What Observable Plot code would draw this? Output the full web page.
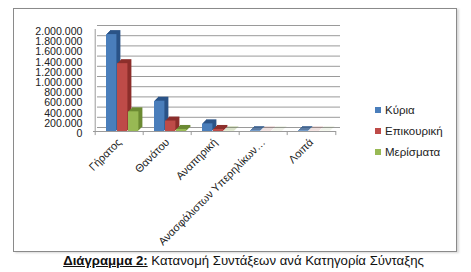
<!DOCTYPE html>
<html>
<head>
<meta charset="utf-8">
<script src="https://cdn.jsdelivr.net/npm/d3@7"></script>
<script src="https://cdn.jsdelivr.net/npm/@observablehq/plot@0.6"></script>
<style>
  html, body { margin: 0; padding: 0; background: #fff; width: 471px; height: 272px; overflow: hidden; }
  body { position: relative; font-family: "Liberation Sans", Arial, sans-serif; }
  #box { position: absolute; left: 13px; top: 8px; width: 442px; height: 242px; border: 1px solid #8a8a8a; box-shadow: 2px 1px 2px #d8d8d8; }
  #chart { position: absolute; left: 0; top: 0; }
  #legend { position: absolute; left: 375px; top: 99px; font-size: 11.5px; color: #222; }
  #legend div { height: 21px; display: flex; align-items: center; }
  #legend span.sw { display: inline-block; width: 6px; height: 6px; margin-right: 4px; }
  #caption { position: absolute; left: 8px; top: 253px; width: 471px; text-align: center; font-size: 13.2px; color: #111; }
  #caption b { text-decoration: underline; }
</style>
</head>
<body>
<div id="box"></div>
<div id="chart"></div>
<div id="legend"></div>
<div id="caption"><b>Διάγραμμα 2:</b> Κατανομή Συντάξεων ανά Κατηγορία Σύνταξης</div>
<script>
const categories = ["Γήρατος", "Θανάτου", "Αναπηρική", "Ανασφάλιστων Υπερηλίκων", "Λοιπά"];
const tickLabels = ["Γήρατος", "Θανάτου", "Αναπηρική", "Ανασφάλιστων Υπερηλίκων…", "Λοιπά"];
const seriesNames = ["Κύρια", "Επικουρική", "Μερίσματα"];
const kyria      = [1900000, 594000, 150000, 15000, 15000];
const epikouriki = [1330000, 205000, 40000, 3000, 3000];
const merismata  = [386000, 40000, 5000, 2000, 2000];
const yTicks = [0, 200000, 400000, 600000, 800000, 1000000, 1200000, 1400000, 1600000, 1800000, 2000000];
const frontColors = ["#4a7ebb", "#be4b48", "#98b954"];
const sideColors  = ["#2b5488", "#8c2f2c", "#6c8a33"];

const W = 471, H = 250;
const mL = 93, mR = 135, mT = 29, mB = 119;
const step = (W - mL - mR) / categories.length;
const barW = 11, leftPad = 11, depth = 4;

const seriesValues = [kyria, epikouriki, merismata];
const fmt = d => d3.format(",")(d).replace(/,/g, ".");

const marks = [
  Plot.gridY(yTicks, {stroke: "#9a9a9a", strokeOpacity: 1, dx: depth, dy: -depth}),
  Plot.ruleY([0], {stroke: "#9a9a9a"}),
  Plot.ruleX([categories[0]], {y1: 0, y2: 2000000, stroke: "#9a9a9a", dx: -step / 2}),
  Plot.ruleX(categories, {y1: 0, y2: -80000, stroke: "#9a9a9a", dx: -step / 2}),
  Plot.ruleX([categories[categories.length - 1]], {y1: 0, y2: -80000, stroke: "#9a9a9a", dx: step / 2}),
];
seriesValues.forEach((vals, i) => {
  const data = categories.map((c, j) => ({cat: c, v: vals[j], s: seriesNames[i]}));
  const insetLeft = leftPad + i * barW;
  const insetRight = step - leftPad - (i + 1) * barW;
  for (let k = depth; k >= 1; k--) {
    marks.push(Plot.barY(data, {x: "cat", y: "v", fill: sideColors[i], insetLeft, insetRight, dx: k, dy: -k}));
  }
  marks.push(Plot.barY(data, {x: "cat", y: "v", fill: frontColors[i], insetLeft, insetRight}));
});
marks.push(
  Plot.axisY(yTicks, {tickFormat: fmt, tickSize: 0, tickPadding: 11, fontSize: 10.6, dy: 2, fill: "#222", label: null}),
  Plot.axisX({tickFormat: d => tickLabels[categories.indexOf(d)], tickRotate: -45, tickSize: 0, tickPadding: 9, fontSize: 11, fill: "#222", label: null})
);

const chart = Plot.plot({
  width: W, height: H,
  marginLeft: mL, marginRight: mR, marginTop: mT, marginBottom: mB,
  style: {fontFamily: "Liberation Sans, Arial, sans-serif", background: "transparent"},
  x: {domain: categories, padding: 0, axis: null},
  y: {domain: [0, 2000000], axis: null},
  marks
});
document.getElementById("chart").appendChild(chart);

const legend = document.getElementById("legend");
seriesNames.forEach((n, i) => {
  const row = document.createElement("div");
  row.innerHTML = `<span class="sw" style="background:${frontColors[i]}"></span>${n}`;
  legend.appendChild(row);
});
</script>
</body>
</html>
